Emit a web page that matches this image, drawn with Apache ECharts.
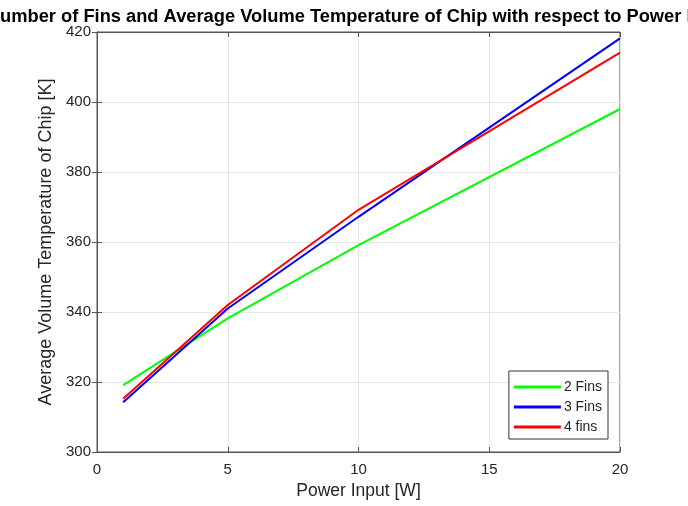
<!DOCTYPE html>
<html><head><meta charset="utf-8">
<script src="https://cdn.jsdelivr.net/npm/echarts@6/dist/echarts.min.js"></script>
<style>html,body{margin:0;padding:0;background:#fff}#c{width:688px;height:506px}</style>
</head><body><div id="c"></div>
<script>
const powerInput = [1, 5, 10, 20];
const fins2 = [319.1, 338.2, 359.1, 398.0];
const fins3 = [314.2, 341.0, 367.2, 418.2];
const fins4 = [315.2, 342.0, 369.2, 414.1];
const seriesNames = ['2 Fins', '3 Fins', '4 fins'];
const xTicks = [0, 5, 10, 15, 20];
const yTicks = [300, 320, 340, 360, 380, 400, 420];

const chart = echarts.init(document.getElementById('c'), null, {renderer: 'canvas'});
const G = {left: 97, top: 32, right: 68, bottom: 54};
const axColor = '#555';
const txt = '#262626';
const FF = '"Liberation Sans", Arial, sans-serif';
function pairs(ys){ return powerInput.map((x,i)=>[x, ys[i]]); }
const colors = ['#00ff00', '#0000ff', '#ff0000'];
const dataSets = [fins2, fins3, fins4];
chart.setOption({
  animation: false,
  grid: Object.assign({show: true, borderColor: axColor, borderWidth: 1, backgroundColor: '#fff'}, G),
  graphic: [{
    type: 'text', x: 359, y: 17,
    style: {text: 'Number of Fins and Average Volume Temperature of Chip with respect to Power Input',
      font: 'bold 18.3px ' + FF, fill: '#000', align: 'center', verticalAlign: 'middle'}
  }],
  xAxis: [{
    type: 'value', min: xTicks[0], max: xTicks[xTicks.length-1], interval: 5,
    name: 'Power Input [W]', nameLocation: 'middle', nameGap: 30,
    nameTextStyle: {color: txt, fontSize: 17.5, fontFamily: FF},
    axisLine: {show: true, lineStyle: {color: axColor}},
    axisTick: {show: true, inside: true, length: 5, lineStyle: {color: axColor}},
    axisLabel: {color: txt, fontSize: 15, margin: 10, fontFamily: FF},
    splitLine: {show: true, lineStyle: {color: '#e5e5e5'}}
  },{
    type: 'value', position: 'top', min: 0, max: 20, interval: 5,
    axisLine: {show: true, lineStyle: {color: axColor}},
    axisTick: {show: true, inside: true, length: 5, lineStyle: {color: axColor}},
    axisLabel: {show: false}, splitLine: {show: false}
  }],
  yAxis: [{
    type: 'value', min: yTicks[0], max: yTicks[yTicks.length-1], interval: 20,
    name: 'Average Volume Temperature of Chip [K]', nameLocation: 'middle', nameGap: 38,
    nameTextStyle: {color: txt, fontSize: 18, fontFamily: FF},
    axisLine: {show: true, lineStyle: {color: axColor}},
    axisTick: {show: true, inside: true, length: 5, lineStyle: {color: axColor}},
    axisLabel: {color: txt, fontSize: 15, margin: 6, fontFamily: FF},
    splitLine: {show: true, lineStyle: {color: '#e5e5e5'}}
  },{
    type: 'value', position: 'right', min: 300, max: 420, interval: 20,
    axisLine: {show: true, lineStyle: {color: axColor}},
    axisTick: {show: true, inside: true, length: 5, lineStyle: {color: axColor}},
    axisLabel: {show: false}, splitLine: {show: false}
  }],
  legend: {
    orient: 'vertical', right: 80, bottom: 67,
    data: seriesNames, itemWidth: 47, itemHeight: 3, itemGap: 6,
    icon: 'rect',
    backgroundColor: '#fff', borderColor: '#333', borderWidth: 1,
    padding: [9, 6, 5, 5],
    textStyle: {color: txt, fontSize: 14, fontFamily: FF, padding: [0,0,0,-2]}
  },
  series: dataSets.map((d,i)=>({
    name: seriesNames[i], type: 'line', data: pairs(d), showSymbol: false, symbol: 'none',
    lineStyle: {color: colors[i], width: 2}, itemStyle: {color: colors[i]}
  }))
});
</script></body></html>
